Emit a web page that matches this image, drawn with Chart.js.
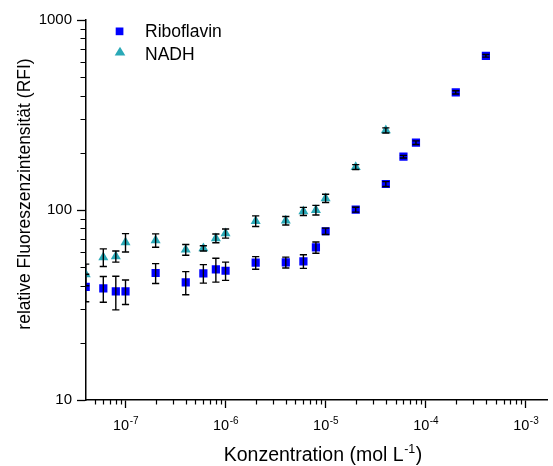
<!DOCTYPE html>
<html>
<head>
<meta charset="utf-8">
<script src="https://cdn.jsdelivr.net/npm/chart.js@4/dist/chart.umd.min.js"></script>
<style>
  html, body { margin: 0; padding: 0; background: #ffffff; }
  #wrap { width: 553px; height: 466px; position: relative; }
</style>
</head>
<body>
<div id="wrap"><canvas id="chart" width="553" height="466"></canvas></div>
<script>
// Concentrations in mol/L
const riboflavinConc = [4e-8, 6e-8, 8e-8, 1e-7, 2e-7, 4e-7, 6e-7, 8e-7, 1e-6, 2e-6,
                        4e-6, 6e-6, 8e-6, 1e-5, 2e-5, 4e-5, 6e-5, 8e-5, 2e-4, 4e-4];
const nadhConc = [4e-8, 6e-8, 8e-8, 1e-7, 2e-7, 4e-7, 6e-7, 8e-7, 1e-6, 2e-6,
                  4e-6, 6e-6, 8e-6, 1e-5, 2e-5, 4e-5];

// Mean fluorescence (RFI) and standard deviation
const riboflavinRFI = [39.4, 38.7, 37.3, 37.3, 46.6, 41.6, 46.4, 48.7, 47.9, 52.8,
                       53.0, 53.7, 63.5, 77.3, 100.4, 137, 190.9, 226, 416, 648];
const riboflavinSD = [6.5, 6, 7.5, 5.5, 5.6, 5.8, 5.2, 7, 5.3, 4,
                      3.5, 4.4, 4.3, 3, 3, 4, 3, 5, 8, 10];
const nadhRFI = [45.9, 56.4, 57.0, 67.6, 69.3, 61.8, 62.8, 71.0, 75.3, 87.5,
                 87.9, 98.4, 100, 115.3, 168.3, 262.4];
const nadhSD = [6, 6, 3.8, 7.5, 5.6, 4, 2, 3.8, 4.2, 5.6,
                4.5, 4.8, 5.8, 5.7, 5, 8];

// Axis ticks
const xDecadeExponents = [-7, -6, -5, -4, -3];
const yMajorTicks = [10, 100, 1000];

const FONT = "'Liberation Sans', Arial, Helvetica, sans-serif";
const BLUE = '#0000ff';
const TEAL = '#2aa9b7';

function toPoints(xs, ys) {
  return xs.map((x, i) => ({ x: x, y: ys[i] }));
}

function minorValues(min, max) {
  const out = [];
  for (let e = -9; e <= 4; e++) {
    for (let m = 2; m <= 9; m++) {
      const v = m * Math.pow(10, e);
      if (v >= min * 0.999 && v <= max) out.push(v);
    }
  }
  return out;
}

// Error bars, drawn on top of the markers
const errorBars = {
  id: 'errorBars',
  afterDatasetsDraw(chart) {
    const ctx = chart.ctx;
    const y = chart.scales.y;
    const area = chart.chartArea;
    ctx.save();
    ctx.beginPath();
    ctx.rect(area.left - 1, area.top - 6, area.right - area.left + 2, area.bottom - area.top + 12);
    ctx.clip();
    ctx.strokeStyle = '#000000';
    ctx.lineWidth = 1.4;
    chart.data.datasets.forEach((ds, i) => {
      const meta = chart.getDatasetMeta(i);
      meta.data.forEach((pt, j) => {
        const v = ds.data[j].y, e = ds.errors[j];
        const top = y.getPixelForValue(v + e);
        const bot = y.getPixelForValue(v - e);
        const px = pt.x, cap = 3.6;
        ctx.beginPath();
        ctx.moveTo(px, top); ctx.lineTo(px, bot);
        ctx.moveTo(px - cap, top); ctx.lineTo(px + cap, top);
        ctx.moveTo(px - cap, bot); ctx.lineTo(px + cap, bot);
        ctx.stroke();
      });
    });
    ctx.restore();
  }
};

// Minor ticks, power-of-ten labels, axis titles and legend
const decorations = {
  id: 'decorations',
  afterDraw(chart) {
    const ctx = chart.ctx;
    const xs = chart.scales.x, ys = chart.scales.y;
    const area = chart.chartArea;
    ctx.save();
    ctx.strokeStyle = '#000000';
    ctx.lineWidth = 1.2;

    // minor ticks
    ctx.beginPath();
    minorValues(xs.min, xs.max).forEach(v => {
      const px = Math.round(xs.getPixelForValue(v)) + 0.5;
      ctx.moveTo(px, area.bottom); ctx.lineTo(px, area.bottom + 4.5);
    });
    minorValues(ys.min, ys.max).forEach(v => {
      const py = Math.round(ys.getPixelForValue(v)) + 0.5;
      ctx.moveTo(area.left, py); ctx.lineTo(area.left - 5.5, py);
    });
    ctx.stroke();

    // x tick labels: 10 with superscript exponent
    ctx.fillStyle = '#000000';
    ctx.textBaseline = 'alphabetic';
    ctx.textAlign = 'left';
    xDecadeExponents.forEach(e => {
      const px = xs.getPixelForValue(Math.pow(10, e));
      ctx.font = '14.5px ' + FONT;
      const wBase = ctx.measureText('10').width;
      ctx.font = '10px ' + FONT;
      const wExp = ctx.measureText(String(e)).width;
      const x0 = px - (wBase + wExp) / 2;
      ctx.font = '14.5px ' + FONT;
      ctx.fillText('10', x0, 429.5);
      ctx.font = '10px ' + FONT;
      ctx.fillText(String(e), x0 + wBase + 0.5, 423.5);
    });

    // x axis title
    const tMain = 'Konzentration (mol L';
    const tSup = '-1';
    const tEnd = ')';
    ctx.font = '19.5px ' + FONT;
    const w1 = ctx.measureText(tMain).width;
    const w3 = ctx.measureText(tEnd).width;
    ctx.font = '12.5px ' + FONT;
    const w2 = ctx.measureText(tSup).width;
    let tx = 322.5 - (w1 + w2 + w3) / 2;
    ctx.font = '19.5px ' + FONT;
    ctx.fillText(tMain, tx, 461);
    ctx.font = '12.5px ' + FONT;
    ctx.fillText(tSup, tx + w1 + 0.5, 453);
    ctx.font = '19.5px ' + FONT;
    ctx.fillText(tEnd, tx + w1 + w2 + 1, 461);

    // y axis title
    ctx.save();
    ctx.translate(30, 194);
    ctx.rotate(-Math.PI / 2);
    ctx.textAlign = 'center';
    ctx.font = '17.5px ' + FONT;
    ctx.fillText('relative Fluoreszenzintensität (RFI)', 0, 0);
    ctx.restore();

    // legend
    ctx.font = '17.5px ' + FONT;
    ctx.textAlign = 'left';
    const ds = chart.data.datasets;
    ctx.fillStyle = ds[0].backgroundColor;
    ctx.fillRect(115.7, 27.5, 7.7, 7.7);
    ctx.fillStyle = '#000000';
    ctx.fillText(ds[0].label, 145, 37);
    ctx.fillStyle = ds[1].backgroundColor;
    ctx.beginPath();
    ctx.moveTo(120, 46.8);
    ctx.lineTo(125.3, 55.5);
    ctx.lineTo(114.7, 55.5);
    ctx.closePath();
    ctx.fill();
    ctx.fillStyle = '#000000';
    ctx.fillText(ds[1].label, 145, 59.5);
    ctx.restore();
  }
};

new Chart(document.getElementById('chart'), {
  type: 'scatter',
  data: {
    datasets: [
      {
        label: 'Riboflavin',
        data: toPoints(riboflavinConc, riboflavinRFI),
        errors: riboflavinSD,
        backgroundColor: BLUE,
        borderColor: BLUE,
        borderWidth: 0,
        pointStyle: 'rect',
        pointRadius: 5.8,
        pointHoverRadius: 5.8,
        clip: 0
      },
      {
        label: 'NADH',
        data: toPoints(nadhConc, nadhRFI),
        errors: nadhSD,
        backgroundColor: TEAL,
        borderColor: TEAL,
        borderWidth: 0,
        pointStyle: 'triangle',
        pointRadius: 5.8,
        pointHoverRadius: 5.8,
        clip: 0
      }
    ]
  },
  options: {
    responsive: false,
    animation: false,
    devicePixelRatio: 1,
    layout: { padding: { top: 20, right: 0, bottom: 0, left: 0 } },
    plugins: {
      legend: { display: false },
      tooltip: { enabled: false }
    },
    scales: {
      x: {
        type: 'logarithmic',
        position: 'bottom',
        min: 4.028e-8,
        max: 1.64e-3,
        afterFit: s => { s.height = 66; },
        afterBuildTicks: s => { s.ticks = xDecadeExponents.map(e => ({ value: Math.pow(10, e) })); },
        ticks: { display: false },
        grid: { drawOnChartArea: false, drawTicks: true, tickLength: 8, tickColor: '#000000', tickWidth: 1.3 },
        border: { display: true, color: '#000000', width: 1.5 }
      },
      y: {
        type: 'logarithmic',
        position: 'left',
        min: 10,
        max: 1000,
        afterFit: s => { s.width = 86; },
        afterBuildTicks: s => { s.ticks = yMajorTicks.map(v => ({ value: v })); },
        ticks: {
          color: '#000000',
          font: { family: FONT, size: 15 },
          padding: 5,
          callback: v => String(v)
        },
        grid: { drawOnChartArea: false, drawTicks: true, tickLength: 9, tickColor: '#000000', tickWidth: 1.3 },
        border: { display: true, color: '#000000', width: 1.5 }
      }
    }
  },
  plugins: [errorBars, decorations]
});
</script>
</body>
</html>
